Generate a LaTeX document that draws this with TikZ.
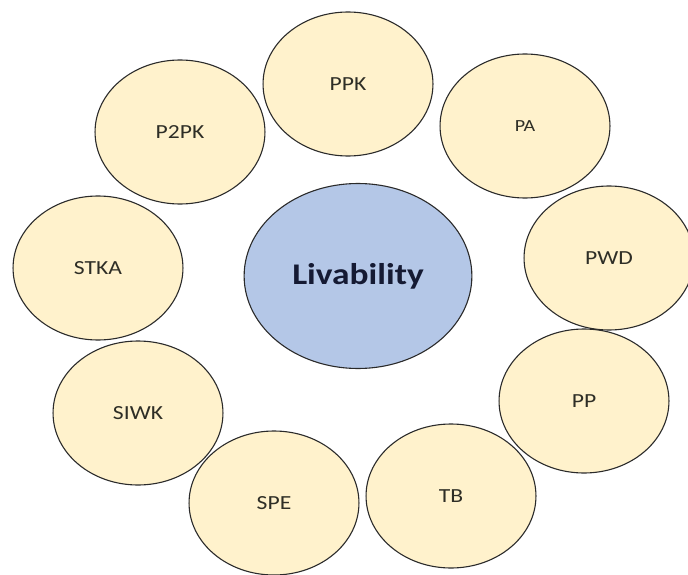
\documentclass[tikz,border=0pt]{standalone}
\usepackage{fontspec}
\setmainfont{Carlito}
\usepackage{xcolor}
\definecolor{factorfill}{HTML}{FFF2CC}
\definecolor{corefill}{HTML}{B4C7E7}
\definecolor{rim}{HTML}{2A2A2A}
\definecolor{ink}{HTML}{2E2E26}
\definecolor{navy}{HTML}{151A33}
\usepackage{tikz}
\usetikzlibrary{
    shapes.geometric,
}

\begin{document}
\begin{tikzpicture}[%
    x=1pt,
    y=-1pt,
    every node/.style={
        font=\fontsize{20}{22}\selectfont,
        text=ink,
        inner sep=0,
        line width=1.1pt,
        draw=rim,
        xscale=1.18,
    },
    factor/.style={
        circle,
        minimum size=144pt,
        fill=factorfill,
    },
    core/.style={
        ellipse,
        minimum width=193pt,
        minimum height=185pt,
        fill=corefill,
        text=navy,
        font=\fontsize{30}{32}\selectfont\bfseries,
    }
]

\clip (0, 0) rectangle (688, 575);

\node [core] (liv) at (358, 276) {Livability};

\node [factor] (ppk)   at (348, 84)  {PPK};
\node [factor, font=\fontsize{17}{19}\selectfont] (pa) at (525, 126) {PA};
\node [factor] (pwd)   at (609, 258) {PWD};
\node [factor] (pp)    at (584, 401) {PP};
\node [factor] (tb)    at (451, 496) {TB};
\node [factor] (spe)   at (274, 503) {SPE};
\node [factor] (siwk)  at (138, 413) {SIWK};
\node [factor] (stka)  at (98, 268)  {STKA};
\node [factor] (ptwopk) at (180, 132) {P2PK};

\end{tikzpicture}
\end{document}
